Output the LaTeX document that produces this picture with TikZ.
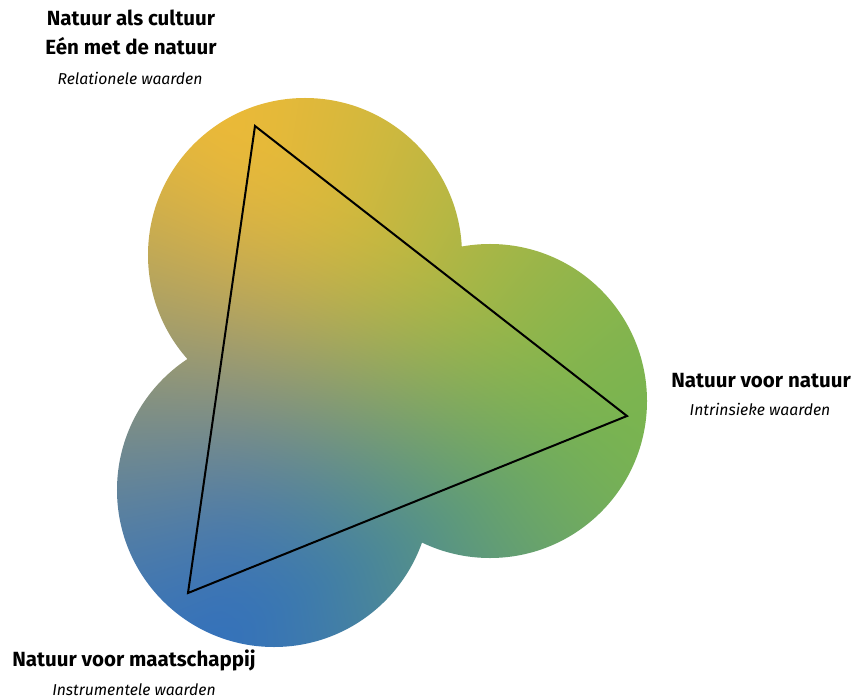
\documentclass[tikz,border=0pt]{standalone}
\usepackage{fontspec}
\setmainfont{Fira Sans}

% Three-colour blend over the blob: orange (top), green (right), blue (bottom-left).
% Coordinates are converted to pixel units (X right, Y down) and mixed by
% clamped barycentric weights raised to the power 1.5.
\pgfdeclarefunctionalshading{blobshade}{\pgfpoint{0bp}{0bp}}{\pgfpoint{426.5bp}{349.5bp}}{}{
  2 mul 699 exch sub exch 2 mul exch
  110 sub exch 220 sub exch
  1 index 0.0022949 mul 1 index 0.0000425 mul add
  2 index -0.0013175 mul 2 index 0.0018275 mul add
  4 -2 roll pop pop
  1 2 index sub 1 index sub
  dup 0 lt {pop 0} if dup sqrt mul
  3 1 roll
  dup 0 lt {pop 0} if dup sqrt mul
  exch dup 0 lt {pop 0} if dup sqrt mul
  exch
  3 copy add add 0.000001 add
  4 1 roll
  3 index div 3 1 roll
  3 index div 3 1 roll
  3 index div 3 1 roll
  4 -1 roll pop
  2 index 0.918 mul 2 index 0.478 mul add 1 index 0.208 mul add
  3 index 0.725 mul 3 index 0.706 mul add 2 index 0.447 mul add
  4 index 0.220 mul 4 index 0.314 mul add 3 index 0.729 mul add
  6 -3 roll pop pop pop
}

\tikzset{
  headlabel/.style={font=\fontsize{10.3}{12}\selectfont\bfseries, inner sep=0pt, anchor=base},
  sublabel/.style={font=\fontsize{7.9}{9}\selectfont\itshape, inner sep=0pt, anchor=base},
  triline/.style={draw=black, line width=1bp, line join=miter},
}

\begin{document}
\begin{tikzpicture}[x=0.5bp, y=-0.5bp]
  \useasboundingbox (0,0) rectangle (853,699);

  % circle centres
  \coordinate (ctop) at (305,255);
  \coordinate (cright) at (490,401);
  \coordinate (cbottom) at (274,490);

  % shaded blob: union of three circles
  \begin{scope}
    \clip (ctop) circle[radius=78.5bp] (cright) circle[radius=78.5bp] (cbottom) circle[radius=78.5bp];
    \node[inner sep=0pt, outer sep=0pt, anchor=south west] (shade) at (0,699) {\pgfuseshading{blobshade}};
  \end{scope}

  % triangle
  \coordinate (vtop) at (255,126);
  \coordinate (vright) at (627,416);
  \coordinate (vbottom) at (188,593);
  \draw[triline] (vtop) -- (vright) -- (vbottom) -- cycle;

  % labels
  \node[headlabel] (rel1) at (131,26) {Natuur als cultuur};
  \node[headlabel] (rel2) at (131,55) {Eén met de natuur};
  \node[sublabel] (rel3) at (130,85) {Relationele waarden};

  \node[headlabel] (int1) at (761,387) {Natuur voor natuur};
  \node[sublabel] (int2) at (760,415) {Intrinsieke waarden};

  \node[headlabel] (ins1) at (134,666) {Natuur voor maatschappij};
  \node[sublabel] (ins2) at (134,695) {Instrumentele waarden};
\end{tikzpicture}
\end{document}
